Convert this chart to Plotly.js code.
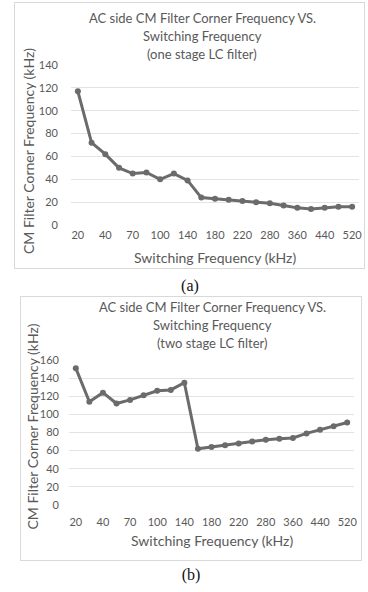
<!DOCTYPE html>
<html>
<head>
<meta charset="utf-8">
<script src="https://cdn.plot.ly/plotly-3.0.1.min.js"></script>
<style>
  html, body { margin: 0; padding: 0; background: #fff; width: 368px; height: 592px; overflow: hidden; }
  .box { position: absolute; border: 1px solid #d9d9d9; box-sizing: border-box; background: #fff; }
  .cap { position: absolute; font-family: "Liberation Serif", "DejaVu Serif", serif; font-size: 16px; line-height: 16px; color: #111; transform: translate(-50%, -50%); white-space: nowrap; }
</style>
</head>
<body>
<div id="chartA" class="box" style="left:14px; top:2px; width:351px; height:267px;"></div>
<div class="cap" style="left:190px; top:286px;">(a)</div>
<div id="chartB" class="box" style="left:20px; top:296px; width:342px; height:265px;"></div>
<div class="cap" style="left:191px; top:575px;">(b)</div>
<script>
// Switching frequency categories (kHz)
const categories = ["20","30","40","50","70","80","100","120","140","160","180","200","220","250","280","320","360","400","440","480","520"];
// Shown tick labels (every other category)
const tickLabels = ["20","40","70","100","140","180","220","280","360","440","520"];
// (a) one stage LC filter: CM filter corner frequency (kHz)
const oneStage = [117, 72, 62, 50, 45, 46, 40, 45, 39, 24, 23, 22, 21, 20, 19, 17, 15, 14, 15, 16, 16];
// (b) two stage LC filter: CM filter corner frequency (kHz)
const twoStage = [151, 114, 124, 112, 116, 121, 126, 127, 135, 62, 64, 66, 68, 70, 72, 73, 74, 79, 83, 87, 91];

const titleA = ["AC side CM Filter Corner Frequency VS.", "Switching Frequency", "(one stage LC filter)"];
const titleB = ["AC side CM Filter Corner Frequency VS.", "Switching Frequency", "(two stage LC filter)"];
const xTitle = "Switching Frequency (kHz)";
const yTitle = "CM Filter Corner Frequency (kHz)";

const FONT = "Lato, 'Open Sans', sans-serif";
const TXT = "#595959";
const LINE = "#6b6b6b";
const GRID = "#e3e3e3";

function makeChart(id, values, titleLines, cfg) {
  const trace = {
    x: categories, y: values, type: "scatter", mode: "lines+markers",
    line: { color: LINE, width: 3 },
    marker: { color: LINE, size: 6 },
    hoverinfo: "skip"
  };
  const plotW = cfg.w - cfg.l - cfg.r;
  const titleAnns = titleLines.map((txt, i) => ({
    text: txt, xref: "paper", x: (cfg.titleCx - cfg.l) / plotW, xanchor: "center",
    yref: "paper", y: 1, yanchor: "middle", yshift: cfg.t - cfg.titleCy[i],
    showarrow: false, font: { family: FONT, size: 13, color: TXT }
  }));
  const layout = {
    width: cfg.w, height: cfg.h,
    margin: { l: cfg.l, r: cfg.r, t: cfg.t, b: cfg.b, pad: 0 },
    paper_bgcolor: "rgba(0,0,0,0)", plot_bgcolor: "rgba(0,0,0,0)",
    showlegend: false,
    font: { family: FONT, color: TXT },
    xaxis: {
      type: "category", tickmode: "array", tickvals: tickLabels, ticktext: tickLabels,
      range: [-0.5, categories.length - 0.5],
      showgrid: false, zeroline: false, showline: false, ticks: "",
      tickfont: { family: FONT, size: 11, color: TXT },
      ticklabelstandoff: cfg.xStand, automargin: false
    },
    yaxis: {
      range: [0, cfg.yMax], tickmode: "linear", tick0: 0, dtick: 20,
      showgrid: true, gridcolor: GRID, gridwidth: 1, zeroline: false, showline: false, ticks: "",
      tickfont: { family: FONT, size: 11, color: TXT },
      ticklabelstandoff: cfg.yStand, automargin: false
    },
    annotations: titleAnns.concat([
      { text: xTitle, xref: "paper", x: 0.5, xanchor: "center", yref: "paper", y: 0, yanchor: "middle",
        yshift: -cfg.xTitleOff, showarrow: false, font: { family: FONT, size: 14, color: TXT } },
      { text: yTitle, xref: "paper", x: 0, xanchor: "center", yref: "paper", y: 0.5, yanchor: "middle",
        xshift: -cfg.yTitleOff, yshift: cfg.yTitleShift, textangle: -90, showarrow: false, font: { family: FONT, size: 14, color: TXT } }
    ])
  };
  Plotly.newPlot(id, [trace], layout, { staticPlot: true, displayModeBar: false });
}

makeChart("chartA", oneStage, titleA, {
  w: 349, h: 265, l: 56, r: 5, t: 62, b: 43, yMax: 140,
  titleCx: 187, titleCy: [15, 33, 51],
  xStand: 2, yStand: 12, xTitleOff: 32, yTitleOff: 43, yTitleShift: -6
});
makeChart("chartB", twoStage, titleB, {
  w: 340, h: 263, l: 48, r: 7, t: 63, b: 55, yMax: 160,
  titleCx: 191, titleCy: [10, 28, 46],
  xStand: 9, yStand: 9, xTitleOff: 35, yTitleOff: 37, yTitleShift: 6
});
</script>
</body>
</html>
